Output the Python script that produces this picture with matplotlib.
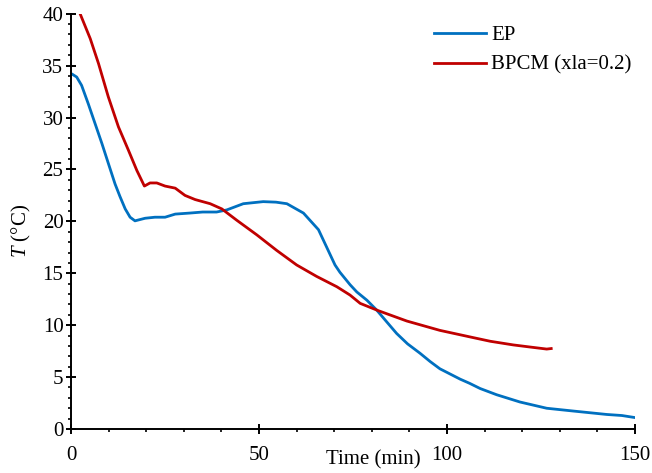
import numpy as np
import matplotlib.pyplot as plt
from matplotlib.ticker import MultipleLocator

# EP curve (blue)
ep_t = [0, 0.2, 1.5, 2.8, 4.6, 6.4, 8.2, 9.9, 11.7, 13.0, 14.4, 15.7, 17.0, 19.7, 22.3, 25,
        27.7, 31.6, 35.0, 38.7, 41.4, 45.8, 51.1, 54.5, 57.4, 61.8, 65.8, 68.0, 70.2, 71.5,
        74.2, 76.0, 78.7, 81.3, 84.0, 86.6, 89.5, 92.8, 95.5, 98.1, 100.8, 103.5, 106,
        108.8, 113.2, 119.4, 126.5, 133.6, 142.5, 146.5, 150]
ep_T = [34.2, 34.2, 33.9, 33.1, 31.3, 29.4, 27.5, 25.6, 23.6, 22.4, 21.2, 20.4, 20.05, 20.3,
        20.4, 20.4, 20.7, 20.8, 20.9, 20.9, 21.1, 21.7, 21.9, 21.85, 21.7, 20.8, 19.2, 17.5,
        15.8, 15.1, 13.9, 13.2, 12.4, 11.45, 10.3, 9.2, 8.2, 7.3, 6.5, 5.8, 5.3, 4.8, 4.4,
        3.9, 3.3, 2.6, 2.0, 1.73, 1.4, 1.3, 1.1]

# BPCM (xla=0.2) curve (red)
bp_t = [2.4, 5.1, 7.3, 9.9, 12.6, 15.2, 17.5, 19.5, 21.0, 22.8, 25, 27.7, 30.3, 33, 37.0,
        40.1, 44.1, 49.4, 54.7, 60.0, 65.3, 70.7, 74.2, 76.9, 81.7, 89.3, 98.1, 107,
        111.5, 117.6, 122, 126.5, 127.7]
bp_T = [40.0, 37.6, 35.2, 32.0, 29.1, 26.9, 24.9, 23.4, 23.7, 23.7, 23.4, 23.2, 22.5, 22.1,
        21.7, 21.2, 20.1, 18.7, 17.2, 15.8, 14.7, 13.7, 12.9, 12.1, 11.4, 10.4, 9.5, 8.8,
        8.45, 8.1, 7.9, 7.7, 7.75]

plt.rcParams['font.family'] = ['Liberation Serif', 'DejaVu Serif']
plt.rcParams['mathtext.fontset'] = 'custom'
plt.rcParams['mathtext.it'] = 'Liberation Serif:italic'
plt.rcParams['mathtext.rm'] = 'Liberation Serif'

fs = 15

fig = plt.figure(figsize=(6.52, 4.73), dpi=100)
ax = fig.add_axes([0.109, 0.093, 0.865, 0.878])

ax.plot(ep_t, ep_T, color='#0070C0', lw=2.0, label='EP')
ax.plot(bp_t, bp_T, color='#C00000', lw=2.0, label='BPCM (xla=0.2)')

ax.set_xlim(0, 150)
ax.set_ylim(0, 40)
ax.xaxis.set_major_locator(MultipleLocator(50))
ax.xaxis.set_minor_locator(MultipleLocator(10))
ax.yaxis.set_major_locator(MultipleLocator(5))
ax.yaxis.set_minor_locator(MultipleLocator(1))

for s in ['top', 'right']:
    ax.spines[s].set_visible(False)
for s in ['left', 'bottom']:
    ax.spines[s].set_linewidth(1.4)

ax.tick_params(which='major', direction='inout', length=7, width=1.4, labelsize=fs)
ax.tick_params(which='minor', direction='out', length=2.5, width=1.2)
ax.tick_params(axis='x', which='major', pad=9)
ax.tick_params(axis='y', which='major', pad=2)

ax.set_xlabel('Time (min)', fontsize=fs)
ax.xaxis.set_label_coords(0.536, -0.05)
ax.set_ylabel(r'$T$ (°C)', fontsize=fs)
ax.yaxis.set_label_coords(-0.067, 0.476)

ax.legend(loc='upper left', bbox_to_anchor=(0.653, 0.964), bbox_transform=fig.transFigure,
          borderaxespad=0, frameon=False, fontsize=fs,
          handlelength=2.5, handletextpad=0.25, labelspacing=0.5)

fig.savefig('out.png', dpi=100)
